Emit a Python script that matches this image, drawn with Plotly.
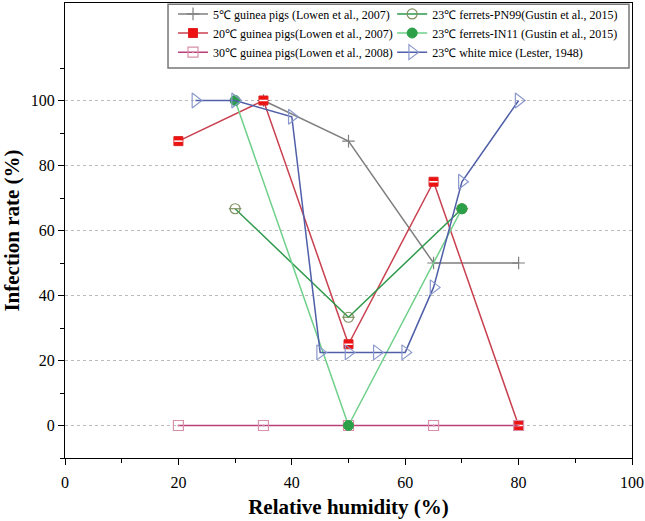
import plotly.graph_objects as go

# ---- data ----
rh_5c = [35, 50, 65, 80]
ir_5c = [100, 87.5, 50, 50]

rh_20c = [20, 35, 50, 65, 80]
ir_20c = [87.5, 100, 25, 75, 0]

rh_30c = [20, 35, 50, 65, 80]
ir_30c = [0, 0, 0, 0, 0]

rh_pn99 = [30, 50, 70]
ir_pn99 = [66.7, 33.3, 66.7]

rh_in11 = [30, 50, 70]
ir_in11 = [100, 0, 66.7]

rh_mice = [23, 30, 40, 45, 50, 55, 60, 65, 70, 80]
ir_mice = [100, 100, 95, 22.5, 22.5, 22.5, 22.5, 42.5, 75, 100]

x_ticks = [0, 20, 40, 60, 80, 100]
y_ticks = [0, 20, 40, 60, 80, 100]

names = [
    "5\u2103 guinea pigs (Lowen et al., 2007)",
    "20\u2103 guinea pigs(Lowen et al., 2007)",
    "30\u2103 guinea pigs(Lowen et al., 2008)",
    "23\u2103 ferrets-PN99(Gustin et al., 2015)",
    "23\u2103 ferrets-IN11 (Gustin et al., 2015)",
    "23\u2103 white mice (Lester, 1948)",
]

SERIF = "Liberation Serif, Times New Roman, serif"

fig = go.Figure()

# 5C guinea pigs
fig.add_trace(go.Scatter(x=rh_5c, y=ir_5c, name=names[0], mode="lines+markers",
    line=dict(color="#7f7f7f", width=1.5),
    marker=dict(symbol="cross-thin-open", size=9, line=dict(color="#7f7f7f", width=1.2)),
    legend="legend"))
# 20C
fig.add_trace(go.Scatter(x=rh_20c, y=ir_20c, name=names[1], mode="lines+markers",
    line=dict(color="#c9404f", width=1.5),
    marker=dict(symbol="square", size=9, color="#ee1111", line=dict(color="#dd2222", width=1)),
    legend="legend2"))
fig.add_trace(go.Scatter(x=rh_20c, y=ir_20c, mode="markers", showlegend=False, hoverinfo="skip",
    marker=dict(symbol="line-ew", size=6, line=dict(color="white", width=1.5))))
# 30C
fig.add_trace(go.Scatter(x=rh_30c, y=ir_30c, name=names[2], mode="lines+markers",
    line=dict(color="#b8407a", width=1.5),
    marker=dict(symbol="square-open-dot", size=10, color="#d890ab", line=dict(color="#d890ab", width=1.2)),
    legend="legend3"))
# PN99
fig.add_trace(go.Scatter(x=rh_pn99, y=ir_pn99, name=names[3], mode="lines+markers",
    line=dict(color="#2e9a4a", width=1.5),
    marker=dict(symbol="circle-open", size=10, color="#7f8f60", line=dict(color="#7f8f60", width=1.2)),
    legend="legend4"))
fig.add_trace(go.Scatter(x=rh_pn99, y=ir_pn99, mode="markers", showlegend=False, hoverinfo="skip",
    marker=dict(symbol="line-ew", size=9, line=dict(color="#7f8f60", width=1.2))))
# IN11
fig.add_trace(go.Scatter(x=rh_in11, y=ir_in11, name=names[4], mode="lines+markers",
    line=dict(color="#6fd08a", width=1.5),
    marker=dict(symbol="circle", size=10, color="#2ca048", line=dict(color="#2ca048", width=1)),
    legend="legend5"))
# mice
fig.add_trace(go.Scatter(x=rh_mice, y=ir_mice, name=names[5], mode="lines+markers",
    line=dict(color="#4f5fa8", width=1.5),
    marker=dict(symbol="triangle-right-open", size=13, color="#8a98cc", line=dict(color="#8a98cc", width=1.2)),
    legend="legend6"))

axis_common = dict(
    showline=True, linecolor="black", linewidth=1.3, mirror=True,
    ticks="outside", ticklen=6, tickwidth=1.2, tickcolor="black",
    tickfont=dict(family=SERIF, size=16, color="black"),
    zeroline=False,
)

fig.update_xaxes(**axis_common, range=[0, 100], tickvals=x_ticks, showgrid=False,
    ticklabelstandoff=4,
    minor=dict(tickvals=[10, 30, 50, 70, 90], ticks="outside", ticklen=4, tickcolor="black", tickwidth=1.2),
    title=dict(text="<b>Relative humidity (%)</b>", font=dict(family=SERIF, size=21, color="black"), standoff=8))
fig.update_yaxes(**axis_common, range=[-10, 130], tickvals=y_ticks, showgrid=True,
    gridcolor="#bbbbbb", griddash="3px,3px", gridwidth=1,
    minor=dict(tickvals=[-10, 10, 30, 50, 70, 90, 110], ticks="outside", ticklen=4, tickcolor="black", tickwidth=1.2),
    title=dict(text="<b>Infection rate (%)</b>", font=dict(family=SERIF, size=21, color="black"), standoff=6))

legend_common = dict(
    bgcolor="rgba(0,0,0,0)", borderwidth=0,
    font=dict(family=SERIF, size=12, color="black"),
    itemwidth=30,
    yanchor="middle", xanchor="left",
)

col_x = [0.1905, 0.577]
row_y = [0.976, 0.934, 0.892]

fig.update_layout(
    width=645, height=521,
    margin=dict(l=65, r=13, t=3, b=63, autoexpand=False),
    paper_bgcolor="white", plot_bgcolor="white",
    legend=dict(**legend_common, x=col_x[0], y=row_y[0]),
    legend2=dict(**legend_common, x=col_x[0], y=row_y[1]),
    legend3=dict(**legend_common, x=col_x[0], y=row_y[2]),
    legend4=dict(**legend_common, x=col_x[1], y=row_y[0]),
    legend5=dict(**legend_common, x=col_x[1], y=row_y[1]),
    legend6=dict(**legend_common, x=col_x[1], y=row_y[2]),
    shapes=[dict(type="rect", xref="paper", yref="paper",
                 x0=0.1817, x1=0.9947, y0=0.857, y1=0.997,
                 line=dict(color="#777777", width=1.5), fillcolor="rgba(0,0,0,0)")],
)

fig.write_html("out.html", config={"displayModeBar": False},
               post_script="document.body.style.margin='0';")
